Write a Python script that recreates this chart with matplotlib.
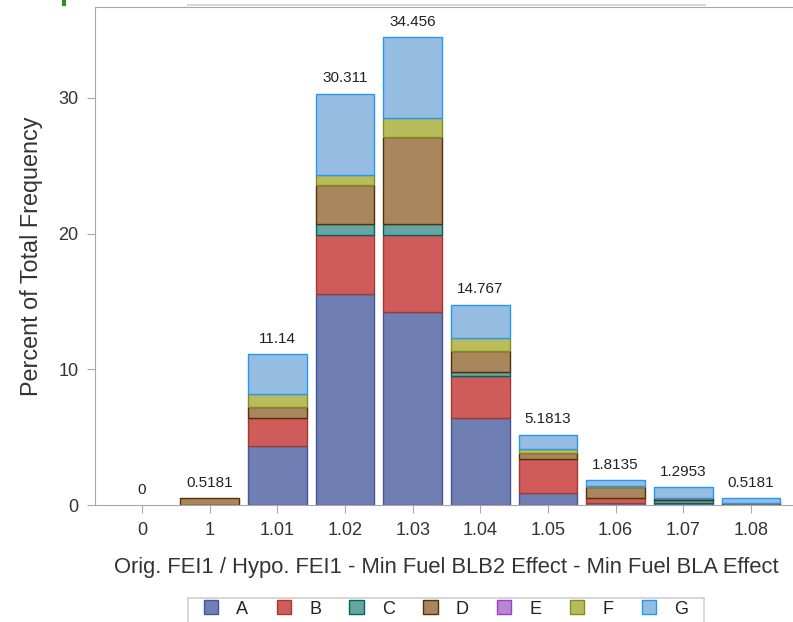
import numpy as np
import matplotlib.pyplot as plt
from matplotlib.patches import Patch, Rectangle
from matplotlib.lines import Line2D

plt.rcParams['font.family'] = ['Liberation Sans', 'DejaVu Sans']

categories = ['0', '1', '1.01', '1.02', '1.03', '1.04', '1.05', '1.06', '1.07', '1.08']
groups = ['A', 'B', 'C', 'D', 'E', 'F', 'G']

# percent of total frequency, per group, per category
A = [0, 0, 4.35, 15.52, 14.22, 6.43, 0.91, 0.13, 0.13, 0]
B = [0, 0, 2.07, 4.38, 5.68, 3.07, 2.46, 0.39, 0, 0]
C = [0, 0, 0, 0.80, 0.80, 0.30, 0, 0, 0.26, 0]
D = [0, 0.5181, 0.78, 2.86, 6.44, 1.57, 0.48, 0.78, 0.13, 0.13]
E = [0, 0, 0, 0, 0, 0, 0, 0, 0, 0]
F = [0, 0, 0.96, 0.74, 1.36, 0.96, 0.25, 0.13, 0, 0]
G = [0, 0, 2.98, 6.011, 5.956, 2.437, 1.0813, 0.3835, 0.7753, 0.3881]
totals = [0, 0.5181, 11.14, 30.311, 34.456, 14.767, 5.1813, 1.8135, 1.2953, 0.5181]

fills = ['#6F7EB3', '#D05B5B', '#66A5A0', '#A9865B', '#B689CD', '#BABC5C', '#94BDE1']
edges = ['#445694', '#A23A2E', '#01665E', '#543005', '#9D3CDB', '#7F8E1F', '#2597FA']

fig = plt.figure(figsize=(7.93, 6.22), dpi=100)
ax = fig.add_axes([95/793, 117/622, 703/793, 498/622])

x = np.arange(len(categories))
bottom = np.zeros(len(categories))
for vals, fc, ec in zip([A, B, C, D, E, F, G], fills, edges):
    vals = np.array(vals, dtype=float)
    keep = vals > 0
    if keep.any():
        ax.bar(x[keep], vals[keep], bottom=bottom[keep], width=0.867,
               color=fc, edgecolor=ec, linewidth=1.0)
    bottom += vals

for i, t in enumerate(totals):
    ax.annotate(f"{t:.5g}", (i, t), xytext=(0, 6), textcoords='offset points',
                ha='center', va='bottom', fontsize=11, color='#222222')

ax.set_xlim(-0.694, 9.694)
ax.set_ylim(0, 36.7)
ax.set_xticks(x)
ax.set_xticklabels(categories)
ax.set_yticks([0, 10, 20, 30])

gray = '#A8A8A8'
for s in ['left', 'top', 'bottom']:
    ax.spines[s].set_color(gray)
ax.spines['right'].set_visible(False)
ax.tick_params(direction='out', length=6, color=gray, labelsize=13,
               labelcolor='#333333', pad=6)

ax.set_xlabel('Orig. FEI1 / Hypo. FEI1 - Min Fuel BLB2 Effect - Min Fuel BLA Effect',
              fontsize=15.8, color='#333333', labelpad=13)
ax.set_ylabel('Percent of Total Frequency', fontsize=16.8, color='#333333', labelpad=11)

handles = [Patch(facecolor=fc, edgecolor=ec, linewidth=1.0) for fc, ec in zip(fills, edges)]
leg = fig.legend(handles, groups, ncol=7, loc='center',
                 bbox_to_anchor=(446/793, 1 - 609/622), fontsize=13,
                 handlelength=0.8, handleheight=0.8, handletextpad=1.0,
                 columnspacing=1.57, frameon=False, borderpad=0.3,
                 borderaxespad=0)
for t in leg.get_texts():
    t.set_color('#222222')
# legend border (runs off the bottom edge, as in the original)
fig.add_artist(Rectangle((188/793, -0.02), (704 - 188)/793, 0.02 + 24/622,
                         transform=fig.transFigure, facecolor='none',
                         edgecolor='#D0D0D0', linewidth=1.2))

# stray bits from the original screenshot
fig.add_artist(Line2D([188/793, 705/793], [1 - 4.5/622, 1 - 4.5/622],
                      transform=fig.transFigure, color='#D8D8D8', linewidth=1.5))
fig.add_artist(Line2D([64/793, 64/793], [1, 1 - 4/622],
                      transform=fig.transFigure, color='#2E8B2E', linewidth=3))

fig.savefig('out.png', dpi=100)
